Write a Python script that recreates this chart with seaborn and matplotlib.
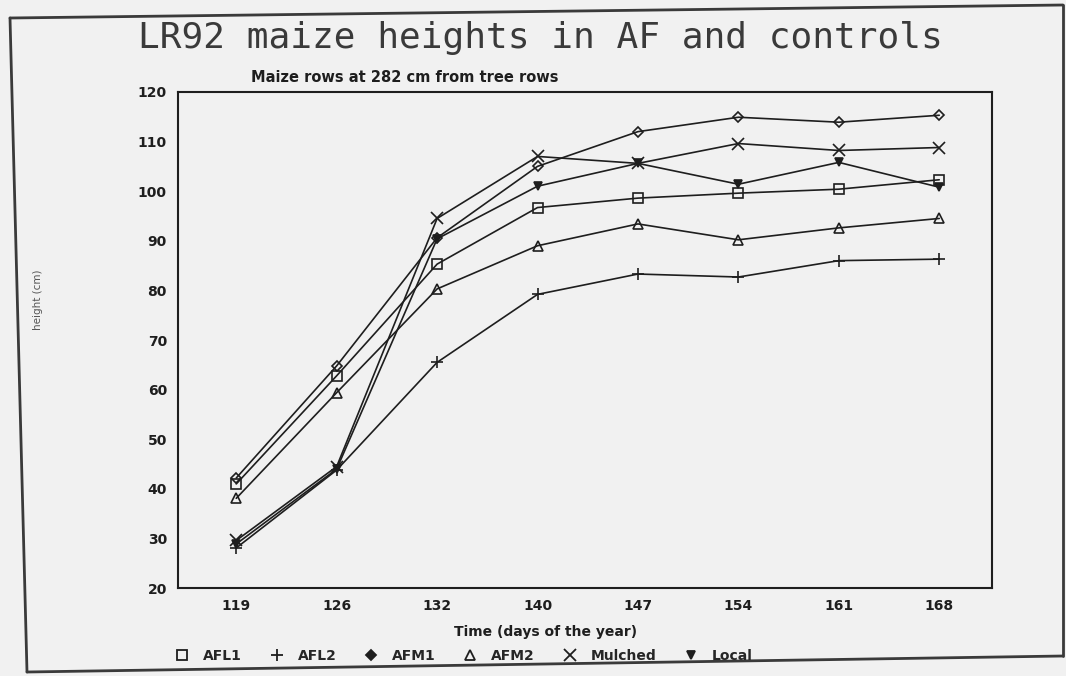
import matplotlib
matplotlib.use("Agg")
import matplotlib.pyplot as plt
import numpy as np
import pandas as pd
import seaborn as sns
from matplotlib.lines import Line2D

# data
days = [119, 126, 132, 140, 147, 154, 161, 168]
afl1 = [41.0, 62.8, 85.3, 96.7, 98.6, 99.6, 100.4, 102.3]
afl2 = [28.1, 43.8, 65.5, 79.2, 83.3, 82.7, 86.0, 86.3]
afm1 = [42.2, 64.8, 90.6, 105.0, 112.0, 114.9, 113.9, 115.3]
afm2 = [38.1, 59.4, 80.3, 89.0, 93.4, 90.2, 92.6, 94.5]
mulched = [29.6, 44.5, 94.5, 107.0, 105.6, 109.6, 108.2, 108.8]
local = [28.9, 44.0, 90.4, 101.0, 105.6, 101.4, 105.8, 100.8]

names = ["AFL1", "AFL2", "AFM1", "AFM2", "Mulched", "Local"]
series = [afl1, afl2, afm1, afm2, mulched, local]
markers = ["s", "+", "D", "^", "x", "v"]
msizes = [7, 9, 5, 7, 8, 6]
filled = [False, False, False, False, False, True]

sns.set_style("white")
bg = "#f1f1f1"
ink = "#1e1e1e"

fig = plt.figure(figsize=(10.66, 6.76), dpi=100, facecolor=bg)
ax = fig.add_axes([0.167, 0.130, 0.764, 0.734], facecolor=bg)

pos = np.arange(len(days))
for name, vals, m, ms, f in zip(names, series, markers, msizes, filled):
    df = pd.DataFrame({"pos": pos, "height": vals})
    sns.lineplot(data=df, x="pos", y="height", ax=ax, color=ink, lw=1.2,
                 marker=m, markersize=ms, markeredgewidth=1.2,
                 markerfacecolor=ink if f else "none", markeredgecolor=ink)

ax.set_xlim(-0.58, 7.53)
ax.set_ylim(20, 120)
ax.set_xticks(pos)
ax.set_xticklabels([str(d) for d in days])
ax.set_yticks(range(20, 121, 10))
ax.tick_params(direction="in", length=7, width=1.3, colors=ink,
               labelsize=10, pad=8)
for lab in ax.get_xticklabels() + ax.get_yticklabels():
    lab.set_fontweight("bold")
for sp in ax.spines.values():
    sp.set_visible(True)
    sp.set_color(ink)
    sp.set_linewidth(1.5)

ax.set_xlabel("Time (days of the year)", fontsize=10, fontweight="bold",
              color=ink)
ax.xaxis.set_label_coords(0.451, -0.075)
ax.set_ylabel("")
fig.text(38 / 1066, 1 - 300 / 676, "height (cm)", rotation=90, fontsize=7.5,
         color="#555555", ha="center", va="center")

fig.text(540 / 1066, 1 - 38 / 676, "LR92 maize heights in AF and controls",
         family="DejaVu Sans Mono", fontsize=26, color="#3a3a3a",
         ha="center", va="center")
fig.text(405 / 1066, 1 - 77 / 676, "Maize rows at 282 cm from tree rows",
         fontsize=10.5, fontweight="bold", color=ink, ha="center", va="center")

handles = [Line2D([], [], ls="none", marker=m, markersize=ms, color=ink,
                  markeredgewidth=1.3,
                  markerfacecolor=ink if (f or m == "D") else "none")
           for m, ms, f in zip(markers, msizes, filled)]
fig.legend(handles, names, loc="center", ncol=6,
           bbox_to_anchor=(464 / 1066, 1 - 656 / 676), frameon=False,
           prop={"size": 10, "weight": "bold"}, columnspacing=2.0,
           handletextpad=1.0, handlelength=1.0)

# page frame from the scan
frame = dict(color="#3a3a3a", lw=2.0, transform=fig.transFigure)
fig.add_artist(Line2D([10 / 1066, 1063 / 1066], [1 - 18 / 676, 1 - 5 / 676], **frame))
fig.add_artist(Line2D([10 / 1066, 27 / 1066], [1 - 18 / 676, 1 - 672 / 676], **frame))
fig.add_artist(Line2D([27 / 1066, 1063 / 1066], [1 - 672 / 676, 1 - 656 / 676], **frame))
fig.add_artist(Line2D([1063 / 1066, 1063 / 1066], [1 - 5 / 676, 1 - 656 / 676], **frame))

fig.savefig("out.png", dpi=100, facecolor=bg)
